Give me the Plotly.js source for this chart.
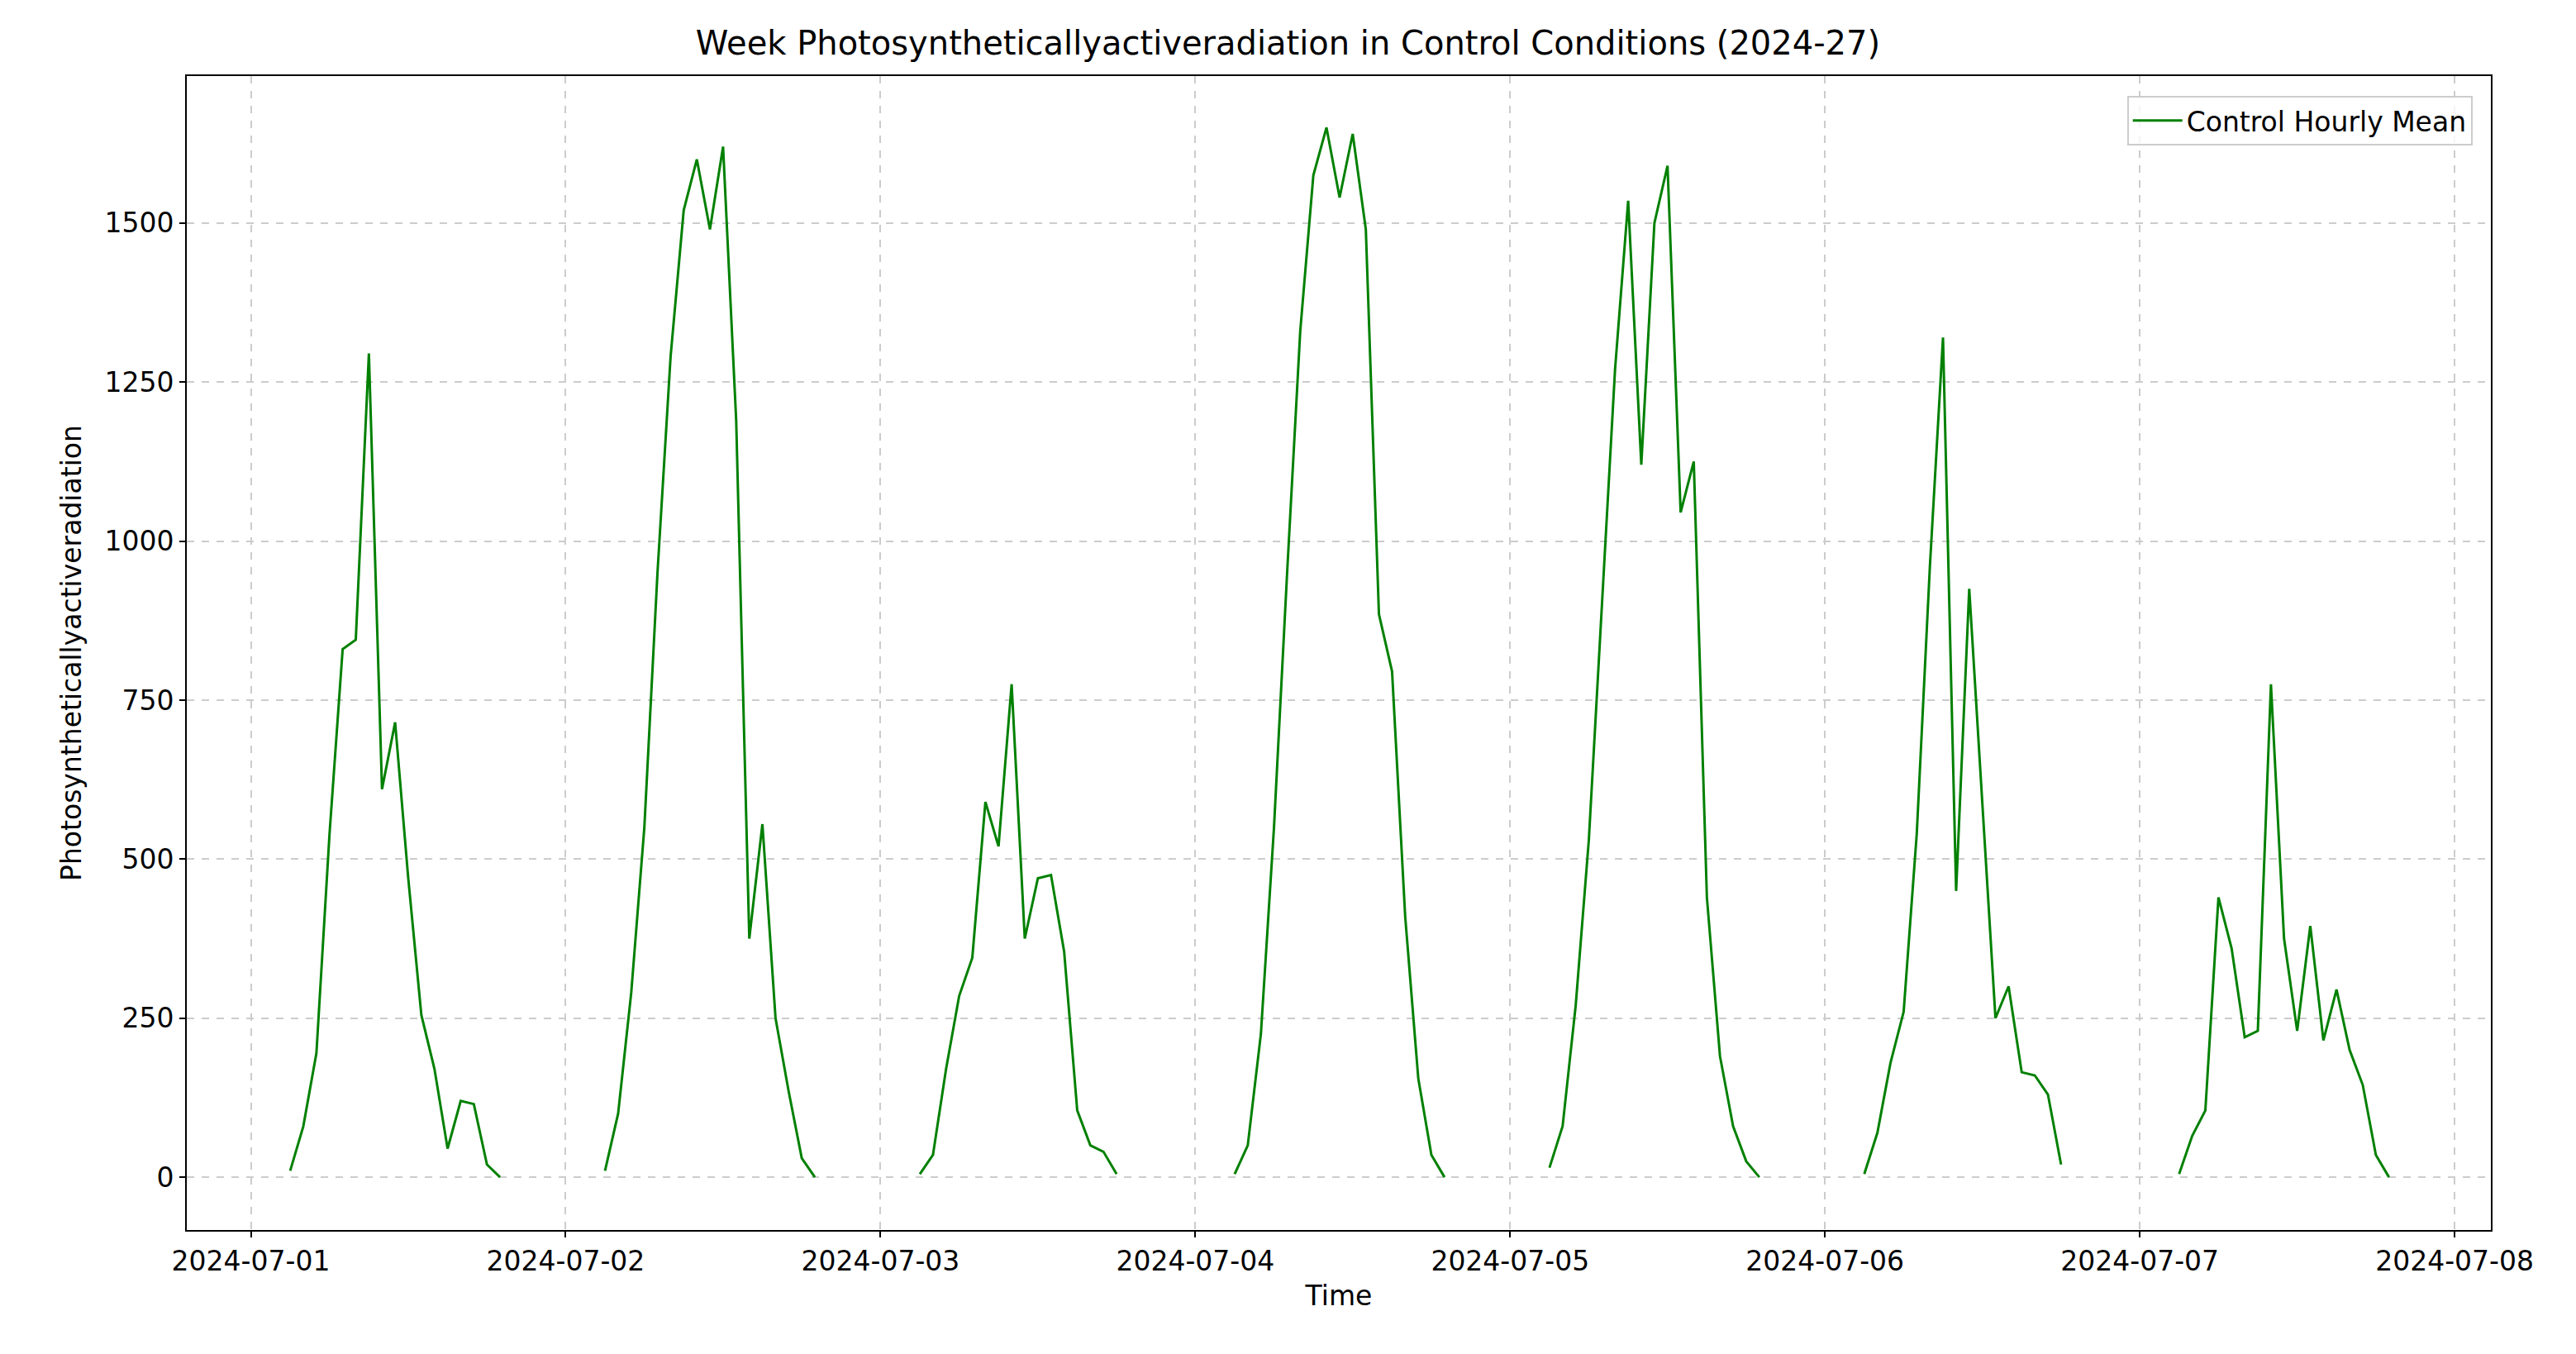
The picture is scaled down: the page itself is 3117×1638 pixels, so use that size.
<!DOCTYPE html>
<html>
<head>
<meta charset="utf-8">
<script src="https://cdn.plot.ly/plotly-3.0.1.min.js"></script>
<style>html,body{margin:0;padding:0;background:#fff}</style>
</head>
<body>
<div id="chart" style="width:3117px;height:1638px"></div>
<script>
// hourly means per day, first reading at 03:00
var days = ['2024-07-01', '2024-07-02', '2024-07-03', '2024-07-04', '2024-07-05', '2024-07-06', '2024-07-07'];
var firstHour = 3;
var day1 = [10, 80, 195, 540, 830, 845, 1295, 610, 715, 470, 255, 170, 45, 120, 115, 20, 0];
var day2 = [10, 100, 290, 550, 950, 1290, 1520, 1600, 1490, 1620, 1190, 375, 555, 250, 135, 30, 0];
var day3 = [5, 35, 170, 285, 345, 590, 520, 775, 375, 470, 475, 355, 105, 50, 40, 5];
var day4 = [5, 50, 225, 550, 950, 1330, 1575, 1650, 1540, 1640, 1490, 885, 795, 410, 155, 35, 0];
var day5 = [15, 80, 270, 530, 900, 1270, 1535, 1120, 1500, 1590, 1045, 1125, 440, 190, 80, 25, 0];
var day6 = [5, 70, 180, 260, 540, 960, 1320, 450, 925, 590, 250, 300, 165, 160, 130, 20];
var day7 = [5, 65, 105, 440, 360, 220, 230, 775, 375, 230, 395, 215, 295, 200, 145, 35, 0];
var dayValues = [day1, day2, day3, day4, day5, day6, day7];

function pad(n) { return (n < 10 ? '0' : '') + n; }

var x = [], y = [];
for (var d = 0; d < days.length; d++) {
    for (var h = 0; h < dayValues[d].length; h++) {
        x.push(days[d] + ' ' + pad(firstHour + h) + ':00');
        y.push(dayValues[d][h]);
    }
    x.push(days[d] + ' 23:00');
    y.push(null);
}

var font = {family: 'DejaVu Sans', size: 33, color: '#000'};

var data = [{
    x: x,
    y: y,
    type: 'scatter',
    mode: 'lines',
    name: 'Control Hourly Mean',
    connectgaps: false,
    line: {color: 'green', width: 3}
}];

var layout = {
    width: 3117,
    height: 1638,
    paper_bgcolor: '#fff',
    plot_bgcolor: '#fff',
    font: font,
    margin: {l: 226, r: 103, t: 92, b: 150},
    title: {
        text: 'Week Photosyntheticallyactiveradiation in Control Conditions (2024-27)',
        font: {family: 'DejaVu Sans', size: 40, color: '#000'},
        x: 0.5, xanchor: 'center', y: 0.968, yanchor: 'middle'
    },
    showlegend: true,
    legend: {
        x: 0.992, y: 0.983, xanchor: 'right', yanchor: 'top',
        bgcolor: 'rgba(255,255,255,0.8)', bordercolor: '#ccc', borderwidth: 2,
        itemwidth: 60,
        font: font
    },
    xaxis: {
        type: 'date',
        range: ['2024-06-30 19:07', '2024-07-08 02:46'],
        tickvals: ['2024-07-01', '2024-07-02', '2024-07-03', '2024-07-04', '2024-07-05', '2024-07-06', '2024-07-07', '2024-07-08'],
        ticktext: ['2024-07-01', '2024-07-02', '2024-07-03', '2024-07-04', '2024-07-05', '2024-07-06', '2024-07-07', '2024-07-08'],
        showgrid: true, gridcolor: '#cccccc', griddash: 'dash', gridwidth: 2,
        showline: true, linecolor: '#000', linewidth: 2, mirror: true,
        ticks: 'outside', ticklen: 7, tickwidth: 2, tickcolor: '#000',
        zeroline: false,
        title: {text: 'Time', font: font, standoff: 12}
    },
    yaxis: {
        range: [-83, 1731],
        tickvals: [0, 250, 500, 750, 1000, 1250, 1500],
        showgrid: true, gridcolor: '#cccccc', griddash: 'dash', gridwidth: 2,
        showline: true, linecolor: '#000', linewidth: 2, mirror: true,
        ticks: 'outside', ticklen: 7, tickwidth: 2, tickcolor: '#000',
        zeroline: false,
        title: {text: 'Photosyntheticallyactiveradiation', font: font, standoff: 18}
    }
};

Plotly.newPlot('chart', data, layout, {displayModeBar: false});
</script>
</body>
</html>
